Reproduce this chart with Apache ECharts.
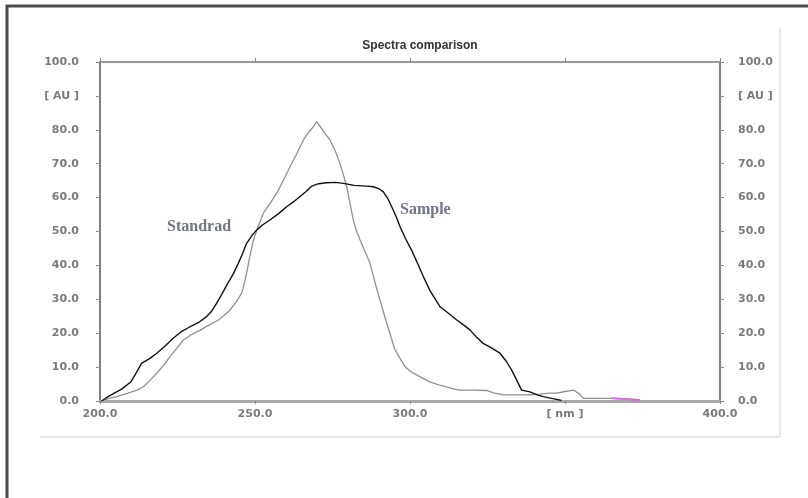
<!DOCTYPE html>
<html>
<head>
<meta charset="utf-8">
<script src="https://cdn.jsdelivr.net/npm/echarts@6/dist/echarts.min.js"></script>
<style>
html,body{margin:0;padding:0;background:#fff;}
#chart{width:808px;height:498px;}
</style>
</head>
<body>
<div id="chart"></div>
<script>
// ---- Data ----
var titleText = "Spectra comparison";
var seriesNames = ["Sample", "Standrad"];
var xTickLabels = {200: "200.0", 250: "250.0", 300: "300.0", 350: "[ nm ]", 400: "400.0"};
var yUnitLabel = "[ AU ]";

var sampleWl = [200.5,203,207,210,211.5,213.4,216,218.3,221,223.6,226,229,232,234.4,236,237.6,239,240.9,243,244.6,246,247.3,249,250.5,252.5,254.8,257.5,260.2,262.5,264.5,266.5,268.3,270.5,273.1,276,278.5,282,286,288.2,290,291.4,292.8,294.1,295.5,296.8,298.5,300.5,302.5,304.3,306.5,309.7,312.5,315.1,317.5,319.4,321.5,323.6,326,329,331,332.8,334.5,336,338.7,341,343,346,348.9];
var sampleAU = [0,1.5,3.5,5.7,8,11.1,12.5,14.1,16.2,18.5,20.3,21.9,23.3,24.9,26.5,28.8,31,34.2,37.5,40.6,43.5,46.5,48.8,50.4,52,53.4,55.2,57.3,58.8,60.3,61.8,63.4,64.1,64.4,64.5,64.2,63.6,63.4,63.2,62.6,61.7,59.8,57.3,54.5,51.4,48,44.5,40.5,36.7,32.5,27.8,25.8,23.9,22.3,20.9,18.8,17,15.8,14.1,11.8,9.1,6,3.2,2.7,1.8,1.3,0.7,0.2];

var standardWl = [200.5,203,205.4,209,212,214,216,218.3,220.5,222.6,225,226.9,229.5,232.3,235,238.2,240,241.9,244,245.7,246.5,247.3,248.3,249.5,251,252.7,255,257,259,261.3,263.5,265.6,267.5,268.8,269.9,271,272.5,274.2,276,277.4,278.6,279.6,280.6,281.7,282.8,283.9,285.5,287.1,288.7,290.3,292,293.5,295,296.8,298.5,300.5,303.2,306,309,311.8,314,316.1,320,324.7,327,330.1,334,338.7,342,345,347.3,350,352.7,354.5,355.9,360,365.6,370,374.2];
var standardAU = [0,0.8,1.3,2.3,3.2,4.2,6,8.2,10.5,13.1,15.8,18,19.6,20.9,22.3,23.9,25.2,26.8,29.3,31.8,34.5,37.7,42.5,47.5,51.5,55.4,58.5,61.3,64.8,69.1,73,77,79.5,80.9,82.4,81,79,77,73.5,70.1,66.5,63.2,58.5,53.4,50,47.5,44,40.6,35,29.8,24.5,20,15.5,12.5,10,8.5,7.2,5.8,4.8,4.2,3.6,3.2,3.2,3.1,2.4,1.8,1.8,1.8,2,2.3,2.3,2.8,3.2,2.2,0.8,0.8,0.8,0.5,0.3];

var markerWl = [365,368,371,374];
var markerAU = [0.8,0.7,0.5,0.3];

function pairs(xs, ys){ return xs.map(function(x,i){ return [x, ys[i]]; }); }

var labelStyle = {color:'#7a7a7a', fontFamily:'DejaVu Sans', fontSize:11, fontWeight:'bold'};
function yFmt(v){ return v === 90 ? yUnitLabel : v.toFixed(1); }
function xFmt(v){ return xTickLabels[v] !== undefined ? xTickLabels[v] : v.toFixed(1); }

var chart = echarts.init(document.getElementById('chart'), null, {renderer:'canvas'});
chart.setOption({
  animation:false,
  backgroundColor:'#fff',
  title:{
    text:titleText, left:415, textAlign:'center', top:35,
    textStyle:{fontFamily:'Liberation Sans', fontSize:12, fontWeight:'bold', color:'#333'}
  },
  grid:{left:100, right:88, top:62, bottom:97, containLabel:false},
  xAxis:[{
    type:'value', position:'bottom', min:200, max:400, interval:50,
    axisLine:{show:true, onZero:false, lineStyle:{color:'#a8a8a8', width:3}},
    axisTick:{show:true, length:3, lineStyle:{color:'#888', width:1}},
    axisLabel:Object.assign({margin:8, formatter:xFmt}, labelStyle),
    splitLine:{show:false}
  },{
    type:'value', position:'top', min:200, max:400, interval:50,
    axisLine:{show:true, onZero:false, lineStyle:{color:'#999', width:2}},
    axisTick:{show:true, length:4, lineStyle:{color:'#888', width:1}},
    axisLabel:{show:false},
    splitLine:{show:false}
  }],
  yAxis:[{
    type:'value', position:'left', min:0, max:100, interval:10,
    axisLine:{show:true, onZero:false, lineStyle:{color:'#808080', width:2}},
    axisTick:{show:true, length:4, lineStyle:{color:'#888', width:1}},
    axisLabel:Object.assign({margin:21, formatter:yFmt}, labelStyle),
    splitLine:{show:false}
  },{
    type:'value', position:'right', min:0, max:100, interval:10,
    axisLine:{show:true, onZero:false, lineStyle:{color:'#808080', width:2}},
    axisTick:{show:true, length:4, lineStyle:{color:'#888', width:1}},
    axisLabel:Object.assign({margin:18, formatter:yFmt}, labelStyle),
    splitLine:{show:false}
  }],
  series:[{
    name:seriesNames[1], type:'line', data:pairs(standardWl, standardAU),
    showSymbol:false, lineStyle:{color:'#909090', width:1.3}, z:2
  },{
    name:seriesNames[0], type:'line', data:pairs(sampleWl, sampleAU),
    showSymbol:false, lineStyle:{color:'#111', width:1.4}, z:3
  },{
    name:'marker', type:'line', data:pairs(markerWl, markerAU),
    showSymbol:false, lineStyle:{color:'#d070d8', width:2}, z:4
  }],
  graphic:[
    {type:'rect', shape:{x:7, y:6, width:820, height:520}, style:{fill:'none', stroke:'#4a4a4a', lineWidth:3}, z:10},
    {type:'line', shape:{x1:780, y1:28, x2:780, y2:437}, style:{stroke:'#e8e8e8', lineWidth:2}},
    {type:'line', shape:{x1:40, y1:437, x2:780, y2:437}, style:{stroke:'#e8e8e8', lineWidth:2}},
    {type:'text', left:167, top:219, style:{text:seriesNames[1], font:'bold 16px "Liberation Serif"', fill:'#73738a'}},
    {type:'text', left:400, top:202, style:{text:seriesNames[0], font:'bold 16px "Liberation Serif"', fill:'#73738a'}}
  ]
});
</script>
</body>
</html>
